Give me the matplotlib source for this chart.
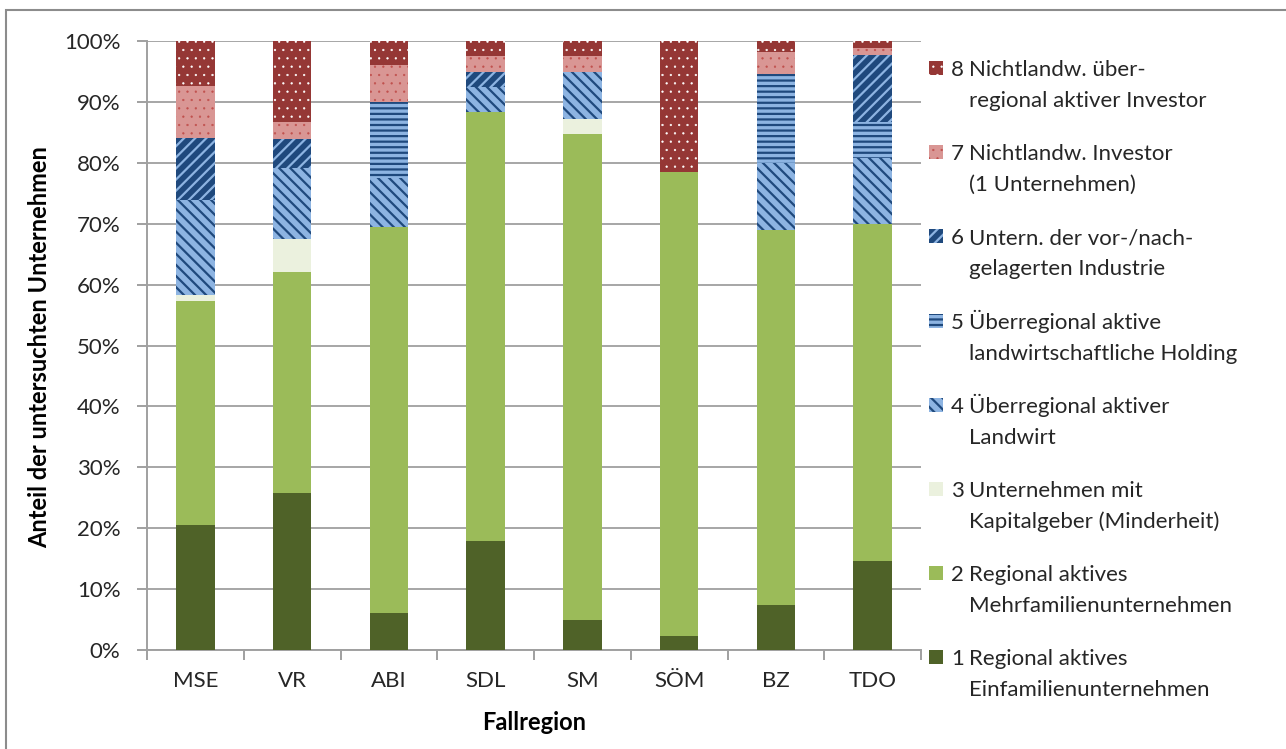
import numpy as np
import matplotlib
matplotlib.use("Agg")
import matplotlib.pyplot as plt
from matplotlib.patches import Rectangle

plt.rcParams['font.family'] = ['Lato', 'DejaVu Sans']
plt.rcParams['hatch.linewidth'] = 1.6

regions = ["MSE", "VR", "ABI", "SDL", "SM", "SÖM", "BZ", "TDO"]

# shares in percent per category (1..8)
cat1 = [20.5, 25.8, 6.1, 17.9, 4.9, 2.3, 7.4, 14.6]
cat2 = [36.8, 36.3, 63.4, 70.4, 79.8, 76.2, 61.6, 55.4]
cat3 = [1.0, 5.4, 0.0, 0.0, 2.5, 0.0, 0.0, 0.0]
cat4 = [15.6, 11.6, 8.0, 4.1, 7.7, 0.0, 11.0, 10.8]
cat5 = [0.0, 0.0, 12.5, 0.0, 0.0, 0.0, 14.6, 5.9]
cat6 = [10.2, 4.8, 0.0, 2.5, 0.0, 0.0, 0.0, 11.0]
cat7 = [8.5, 2.8, 6.1, 2.6, 2.6, 0.0, 3.6, 1.1]
cat8 = [7.4, 13.3, 3.9, 2.5, 2.5, 21.5, 1.8, 1.2]

numbers = ["1", "2", "3", "4", "5", "6", "7", "8"]
labels = [
    ("Regional aktives", "Einfamilienunternehmen"),
    ("Regional aktives", "Mehrfamilienunternehmen"),
    ("Unternehmen mit", "Kapitalgeber (Minderheit)"),
    ("Überregional aktiver", "Landwirt"),
    ("Überregional aktive", "landwirtschaftliche Holding"),
    ("Untern. der vor-/nach-", "gelagerten Industrie"),
    ("Nichtlandw. Investor", "(1 Unternehmen)"),
    ("Nichtlandw. über-", "regional aktiver Investor"),
]

# face, hatch colour, hatch, hatch linewidth
styles = [
    ("#4F6228", None, None, 1.6),
    ("#9BBB59", None, None, 1.6),
    ("#EBF1DE", None, None, 1.6),
    ("#8DB4E2", "#1F497D", "\\\\\\", 1.6),
    ("#8DB4E2", "#1F497D", "---", 1.6),
    ("#1F497D", "#8DB4E2", "///", 1.6),
    ("#D99694", "#C0504D", "..", 0.4),
    ("#953735", "#FFFFFF", "..", 0.4),
]

series = [cat1, cat2, cat3, cat4, cat5, cat6, cat7, cat8]

W, H = 1286, 749
fig = plt.figure(figsize=(W / 100, H / 100), dpi=100)
ax = fig.add_axes([147 / W, 1 - 650 / H, (921 - 147) / W, (650 - 41) / H])

x = np.arange(len(regions))
bottom = np.zeros(len(regions))
for vals, (fc, hc, hatch, hlw) in zip(series, styles):
    vals = np.array(vals)
    with plt.rc_context({'hatch.linewidth': hlw}):
        ax.bar(x, vals / 100, 0.4, bottom=bottom / 100, color=fc,
               edgecolor=hc if hc else fc, linewidth=0, hatch=hatch, zorder=3)
    bottom += vals

ax.set_ylim(0, 1)
ax.set_xlim(-0.5, len(regions) - 0.5)
ticks = np.arange(0, 1.01, 0.1)
ax.set_yticks(ticks)
ax.set_yticklabels([f"{int(round(v * 100))}%" for v in ticks], fontsize=16, color="#262626")
ax.set_xticks(x)
ax.set_xticklabels(regions, fontsize=16, color="#262626")
ax.set_xticks(np.arange(-0.5, len(regions), 1), minor=True)
ax.tick_params(axis='x', which='major', length=0, pad=15)
ax.tick_params(axis='x', which='minor', length=7, color="#A0A0A0", width=1.4)
ax.tick_params(axis='y', length=7, color="#A0A0A0", width=1.4, pad=12)
ax.yaxis.grid(True, color="#A6A6A6", linewidth=1.4, zorder=0)
for s in ["top", "right"]:
    ax.spines[s].set_visible(False)
for s in ["left", "bottom"]:
    ax.spines[s].set_color("#A0A0A0")
    ax.spines[s].set_linewidth(1.4)

fig.text(40 / W, 1 - 347 / H, "Anteil der untersuchten Unternehmen", rotation=90,
         fontsize=17, fontweight="bold", ha="center", va="center")
fig.text(534 / W, 1 - 722 / H, "Fallregion", fontsize=17, fontweight="bold",
         ha="center", va="center")

# legend, drawn by hand so the marker sits on the first line
first_line = 68
step = 84.2
for i, k in enumerate(range(7, -1, -1)):
    fc, hc, hatch, hlw = styles[k]
    yc = first_line + i * step
    with plt.rc_context({'hatch.linewidth': hlw}):
        fig.patches.append(Rectangle((929 / W, 1 - (yc + 7) / H), 14 / W, 14 / H,
                                     transform=fig.transFigure, facecolor=fc,
                                     edgecolor=hc if hc else fc, linewidth=0, hatch=hatch))
    fig.text(951 / W, 1 - (yc + 8) / H, numbers[k], fontsize=16, va="baseline", color="#262626")
    fig.text(969 / W, 1 - (yc + 8) / H, labels[k][0], fontsize=16, va="baseline", color="#262626")
    fig.text(969 / W, 1 - (yc + 39) / H, labels[k][1], fontsize=16, va="baseline", color="#262626")

# outer frame (only top and left edges are inside the picture)
fig.patches.append(Rectangle((6 / W, -0.05), 1.1, 1 - 10 / H + 0.05, transform=fig.transFigure,
                             fill=False, edgecolor="#8C8C8C", linewidth=1.5))

fig.savefig("out.png", dpi=100)
